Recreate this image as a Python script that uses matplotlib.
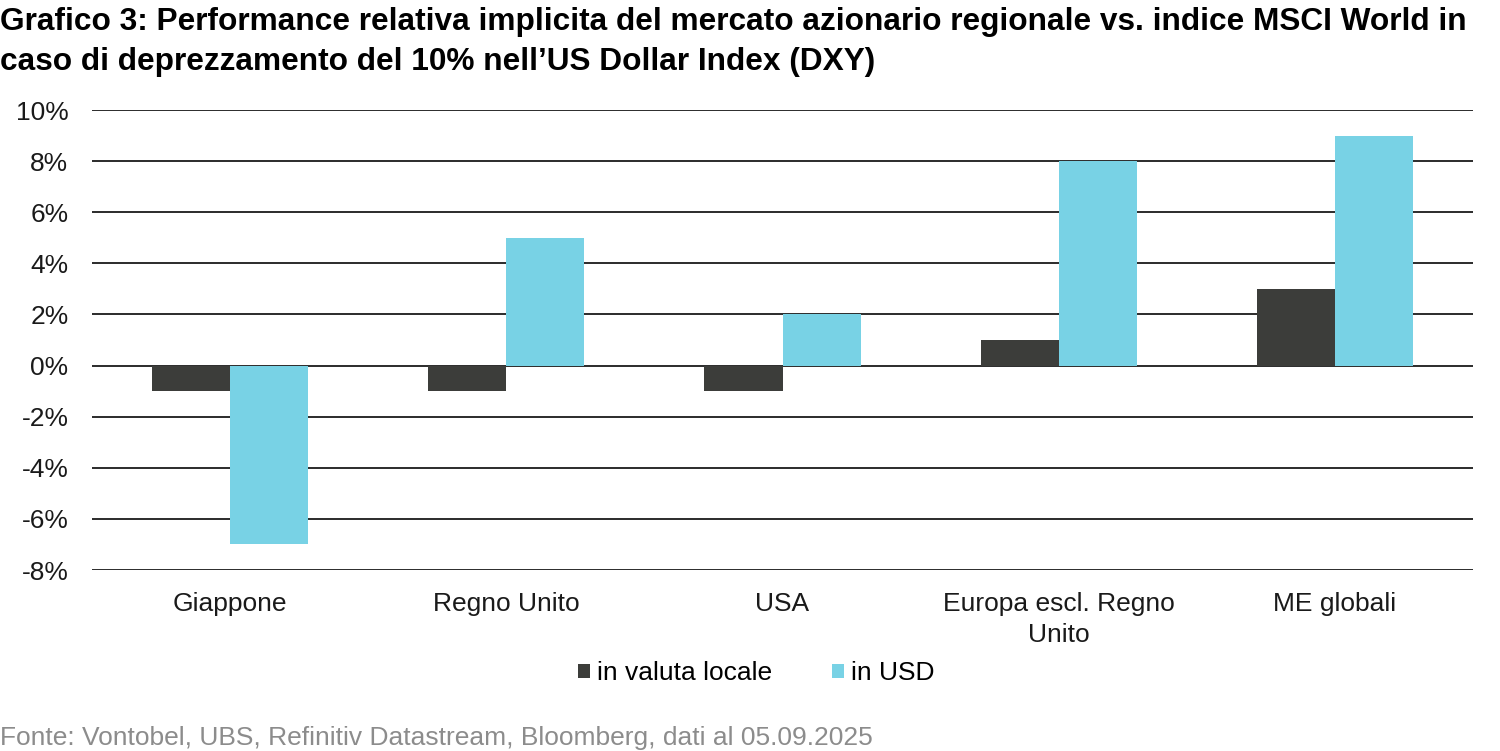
import matplotlib

matplotlib.use("Agg")

import matplotlib.pyplot as plt
import numpy as np
from matplotlib.ticker import FuncFormatter

plt.rcParams["font.family"] = ["Liberation Sans", "DejaVu Sans"]

categories = ["Giappone", "Regno Unito", "USA", "Europa escl. Regno\nUnito", "ME globali"]
local_ccy = [-1, -1, -1, 1, 3]
in_usd = [-7, 5, 2, 8, 9]
series_labels = ["in valuta locale", "in USD"]
title_lines = [
    "Grafico 3: Performance relativa implicita del mercato azionario regionale vs. indice MSCI World in",
    "caso di deprezzamento del 10% nell\u2019US Dollar Index (DXY)",
]
source = "Fonte: Vontobel, UBS, Refinitiv Datastream, Bloomberg, dati al 05.09.2025"

DARK = "#3c3d3a"
CYAN = "#78d2e5"

fig = plt.figure(figsize=(15, 7.51), dpi=100)
ax = fig.add_axes([92 / 1500, 1 - 570 / 751, (1473 - 92) / 1500, (570 - 110) / 751])

x = np.arange(len(categories))
w = 0.283
ax.bar(x - w / 2, local_ccy, width=w, color=DARK, label=series_labels[0], zorder=3)
ax.bar(x + w / 2, in_usd, width=w, color=CYAN, label=series_labels[1], zorder=3)

ax.set_xlim(-0.5, len(categories) - 0.5)
ax.set_ylim(-8, 10)
ax.set_yticks(range(-8, 11, 2))
ax.yaxis.set_major_formatter(FuncFormatter(lambda v, _: f"{v:.0f}%"))
ax.set_xticks(x)
ax.set_xticklabels(categories, linespacing=1.35)
ax.grid(axis="y", color="#1a1a1a", lw=1.3, zorder=0)
for s in ax.spines.values():
    s.set_visible(False)
ax.tick_params(axis="both", length=0, labelsize=19, colors="#1a1a1a")
ax.tick_params(axis="y", pad=17)
ax.tick_params(axis="x", pad=16)

ax.legend(
    loc="center",
    bbox_to_anchor=(0.481, -0.225),
    ncol=2,
    frameon=False,
    fontsize=19,
    handlelength=0.45,
    handleheight=0.45,
    handletextpad=0.25,
    columnspacing=2.3,
)

for line, base in zip(title_lines, (30, 70)):
    fig.text(
        0.0,
        1 - base / 751,
        line,
        fontsize=22.8,
        fontweight="bold",
        va="baseline",
        ha="left",
    )
fig.text(
    0.0,
    1 - 745 / 751,
    source,
    fontsize=19,
    color="#8c8c8c",
    va="baseline",
    ha="left",
)

fig.savefig("out.png", dpi=100)
